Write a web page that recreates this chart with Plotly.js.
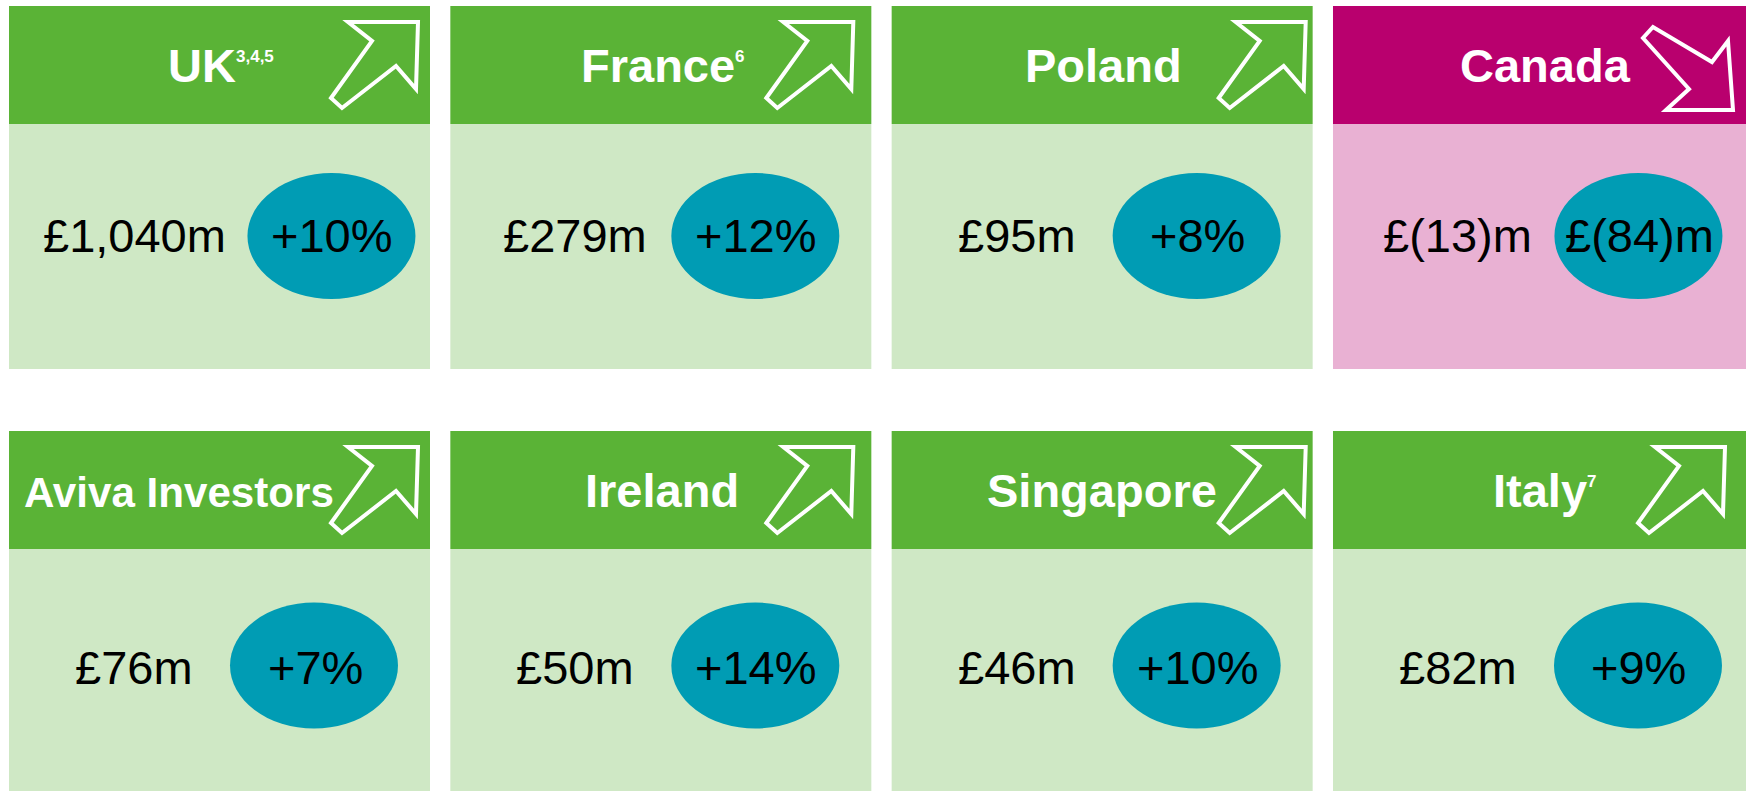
<!DOCTYPE html>
<html><head><meta charset="utf-8">
<script src="https://cdn.plot.ly/plotly-3.0.1.min.js"></script>
<style>html,body{margin:0;padding:0;background:#fff;overflow:hidden}#chart{width:1746px;height:791px}</style>
</head><body><div id="chart"></div>
<script>
// ---- data ----
const regions = ['UK','France','Poland','Canada','Aviva Investors','Ireland','Singapore','Italy'];
const footnotes = ['3,4,5','6','','','','','','7'];
const operatingProfit = [1040,279,95,-13,76,50,46,82];      // £m
const changeValues = [10,12,8,-84,7,14,10,9];
const changeUnits = ['%','%','%','£m','%','%','%','%'];

// ---- style / layout constants ----
const W = 1746, H = 791;
const FONT = 'Liberation Sans, Arial, sans-serif';
const COL = {
  upHead:'#5AB336', upBody:'#CFE8C5',
  downHead:'#B9006E', downBody:'#E9B1D3',
  bubble:'#009CB4'
};
const tileW = 421, headH = 118, tileH = 363;
const colX = c => 9 + c*441.33;
const rowY = [6, 431];
const valueBaseline = [252, 684];
const bubbleCy = [236, 665.5];
const arrowTipRel = [409, 403, 414, 392];
const VFS = 47;

const ctx = document.createElement('canvas').getContext('2d');
function measure(txt, size, bold){
  ctx.font = (bold?'bold ':'') + size + 'px "Liberation Sans", Arial, sans-serif';
  return ctx.measureText(txt).width;
}
function fmtMoney(v){
  const s = Math.abs(v).toLocaleString('en-GB');
  return v < 0 ? '£(' + s + ')m' : '£' + s + 'm';
}
function fmtChange(v, u){
  if (u === '%') return (v >= 0 ? '+' : '') + v + '%';
  return fmtMoney(v);
}

const shapes = [], annotations = [];
regions.forEach((name, i) => {
  const r = Math.floor(i/4), c = i % 4;
  const x0 = colX(c), y0 = rowY[r];
  const up = changeValues[i] >= 0;
  // tile
  shapes.push({type:'rect', xref:'x', yref:'y', x0:x0, x1:x0+tileW, y0:y0, y1:y0+headH,
    fillcolor: up?COL.upHead:COL.downHead, line:{width:0}, layer:'below'});
  shapes.push({type:'rect', xref:'x', yref:'y', x0:x0, x1:x0+tileW, y0:y0+headH, y1:y0+tileH,
    fillcolor: up?COL.upBody:COL.downBody, line:{width:0}, layer:'below'});
  // arrow outline
  let pts;
  if (up) {
    const tx = x0 + arrowTipRel[c], ty = y0 + 16;
    pts = [[0,0],[-70,0],[-46,19],[-87,76],[-76,86],[-22,44],[-2,67]].map(p=>[tx+p[0], ty+p[1]]);
  } else {
    const tx = x0 + 400, ty = y0 + 104;
    pts = [[0,0],[-67,0],[-44,-21],[-90,-72],[-80,-83],[-21,-48],[-5,-69]].map(p=>[tx+p[0], ty+p[1]]);
  }
  shapes.push({type:'path', xref:'x', yref:'y',
    path: 'M' + pts.map(p=>p[0].toFixed(1)+','+p[1].toFixed(1)).join(' L') + ' Z',
    line:{color:'#FFFFFF', width:4}, fillcolor:'rgba(0,0,0,0)'});
  // title
  let fs = 47;
  let tw = measure(name, fs, true);
  if (tw > 310) { fs = fs*310/tw; tw = measure(name, fs, true); }
  const sup = footnotes[i];
  const sw = sup ? measure(sup, 17, true) : 0;
  const total = tw + sw;
  const centerRel = Math.min(210, 323 - total/2);
  const left = x0 + centerRel - total/2;
  const tb = y0 + 76;
  annotations.push({xref:'x', yref:'y', x:left, y:tb - 0.35*fs, xanchor:'left', yanchor:'middle',
    text:'<b>'+name+'</b>', showarrow:false, font:{family:FONT, size:fs, color:'#FFFFFF'}});
  if (sup) annotations.push({xref:'x', yref:'y', x:left+tw, y:tb - 20 - 0.35*17, xanchor:'left', yanchor:'middle',
    text:'<b>'+sup+'</b>', showarrow:false, font:{family:FONT, size:17, color:'#FFFFFF'}});
  // value
  const vTxt = fmtMoney(operatingProfit[i]);
  const vw = measure(vTxt, VFS, false);
  const vb = valueBaseline[r];
  annotations.push({xref:'x', yref:'y', x:x0+125, y:vb - 0.35*VFS, xanchor:'center', yanchor:'middle',
    text:vTxt, showarrow:false, font:{family:FONT, size:VFS, color:'#000000'}});
  // bubble
  const cx = x0 + Math.max(305, 125 + vw/2 + 22 + 84);
  const cy = bubbleCy[r];
  shapes.push({type:'circle', xref:'x', yref:'y', x0:cx-84, x1:cx+84, y0:cy-63, y1:cy+63,
    fillcolor:COL.bubble, line:{width:0}, layer:'below'});
  annotations.push({xref:'x', yref:'y', x:cx+1, y:vb - 0.35*VFS, xanchor:'center', yanchor:'middle',
    text:fmtChange(changeValues[i], changeUnits[i]), showarrow:false, font:{family:FONT, size:VFS, color:'#000000'}});
});

const data = [{type:'scatter', x:[0], y:[0], mode:'markers', marker:{opacity:0}, hoverinfo:'skip', showlegend:false}];
const layout = {
  width:W, height:H, margin:{l:0,r:0,t:0,b:0},
  paper_bgcolor:'#FFFFFF', plot_bgcolor:'#FFFFFF',
  xaxis:{range:[0,W], visible:false, fixedrange:true},
  yaxis:{range:[H,0], visible:false, fixedrange:true},
  shapes:shapes, annotations:annotations, showlegend:false
};
Plotly.newPlot('chart', data, layout, {staticPlot:true, displayModeBar:false});
</script></body></html>
